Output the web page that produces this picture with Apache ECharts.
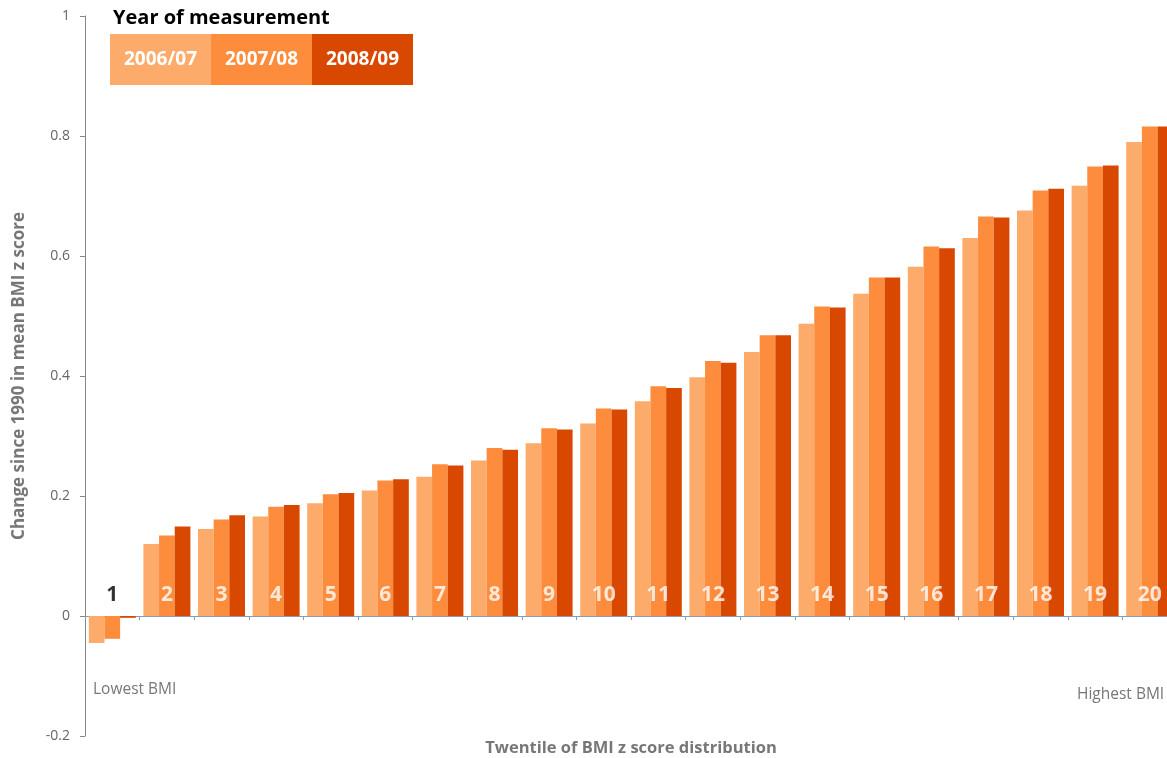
<!DOCTYPE html>
<html>
<head>
<meta charset="utf-8">
<script src="https://cdn.jsdelivr.net/npm/echarts@6/dist/echarts.min.js"></script>
<style>
  html, body { margin: 0; padding: 0; background: #fff; }
</style>
</head>
<body>
<div id="main" style="width:1167px;height:758px;"></div>
<script>
// twentiles of the BMI z score distribution
const twentiles = ['1', '2', '3', '4', '5', '6', '7', '8', '9', '10',
  '11', '12', '13', '14', '15', '16', '17', '18', '19', '20'];

// change since 1990 in mean BMI z score, per year of measurement
const year0607 = [-0.045, 0.120, 0.145, 0.166, 0.188, 0.209, 0.232, 0.259, 0.288, 0.321,
  0.358, 0.398, 0.440, 0.487, 0.537, 0.582, 0.630, 0.676, 0.717, 0.790];
const year0708 = [-0.038, 0.134, 0.161, 0.182, 0.203, 0.226, 0.253, 0.280, 0.313, 0.346,
  0.383, 0.425, 0.468, 0.516, 0.564, 0.616, 0.666, 0.709, 0.749, 0.816];
const year0809 = [-0.003, 0.149, 0.168, 0.185, 0.205, 0.228, 0.251, 0.277, 0.311, 0.344,
  0.380, 0.422, 0.468, 0.514, 0.564, 0.613, 0.664, 0.712, 0.751, 0.816];

const yearNames = ['2006/07', '2007/08', '2008/09'];
const colors = ['#fdab6b', '#fd8c3c', '#d94801'];

const yTicks = { min: -0.2, max: 1, interval: 0.2 };

const font = 'Open Sans';

const chart = echarts.init(document.getElementById('main'));

// number of each twentile, sitting just above the zero line
const twentileLabels = twentiles.map((t, i) => ({
  value: 0,
  label: { color: i === 0 ? '#000' : '#fff' }
}));

const boxStyle = (c) => ({
  backgroundColor: c, color: '#fff', fontWeight: 'bold', fontSize: 19,
  width: 101, height: 51, lineHeight: 51, align: 'center', fontFamily: font
});

const option = {
  color: colors,
  animation: false,
  textStyle: { fontFamily: font },
  title: {
    text: 'Year of measurement',
    left: 113,
    top: 8,
    padding: 0,
    textStyle: { fontSize: 20, fontWeight: 'bold', color: '#000', fontFamily: font }
  },
  legend: {
    data: yearNames,
    left: 105,
    top: 34,
    padding: 0,
    icon: 'none',
    itemWidth: 0,
    itemHeight: 0,
    itemGap: -5,
    selectedMode: false,
    formatter: function (name) {
      return '{s' + yearNames.indexOf(name) + '|' + name + '}';
    },
    textStyle: {
      rich: { s0: boxStyle(colors[0]), s1: boxStyle(colors[1]), s2: boxStyle(colors[2]) }
    }
  },
  grid: { left: 85, right: -10, top: 16, bottom: 22, containLabel: false, outerBoundsMode: 'none' },
  xAxis: {
    type: 'category',
    data: twentiles,
    name: 'Twentile of BMI z score distribution',
    nameLocation: 'middle',
    nameGap: 4,
    nameTextStyle: { fontSize: 16.5, fontWeight: 'bold', color: '#777', fontFamily: font, verticalAlign: 'top' },
    axisLine: { onZero: true, lineStyle: { color: '#8a9ab0', width: 1 } },
    axisTick: { show: true, length: 4, lineStyle: { color: '#8a9ab0' } },
    axisLabel: { show: false }
  },
  yAxis: {
    type: 'value',
    min: yTicks.min,
    max: yTicks.max,
    interval: yTicks.interval,
    name: 'Change since 1990 in mean BMI z score',
    nameLocation: 'middle',
    nameGap: 57,
    nameTextStyle: { fontSize: 17, fontWeight: 'bold', color: '#777', fontFamily: font },
    splitLine: { show: false },
    axisLine: { show: true, onZero: false, lineStyle: { color: '#888' } },
    axisTick: { show: true, length: 5, lineStyle: { color: '#888' } },
    axisLabel: { margin: 15, fontSize: 14, color: '#666', fontFamily: font }
  },
  graphic: [
    { type: 'text', left: 93, top: 682, style: { text: 'Lowest BMI', fontSize: 15.5, fill: '#777', fontFamily: font } },
    { type: 'text', left: 1077, top: 687, style: { text: 'Highest BMI', fontSize: 15.5, fill: '#777', fontFamily: font } }
  ],
  series: [
    { name: yearNames[0], type: 'bar', data: year0607, barWidth: '28.7%', barGap: '0%' },
    { name: yearNames[1], type: 'bar', data: year0708, barWidth: '28.7%', barGap: '0%' },
    { name: yearNames[2], type: 'bar', data: year0809, barWidth: '28.7%', barGap: '0%' },
    {
      name: 'twentile',
      type: 'scatter',
      data: twentileLabels,
      symbolSize: 0,
      z: 5,
      silent: true,
      label: {
        show: true,
        position: 'top',
        distance: 10,
        formatter: '{b}',
        fontSize: 21,
        fontWeight: 'bold',
        fontFamily: font
      }
    }
  ]
};

chart.setOption(option);
</script>
</body>
</html>
